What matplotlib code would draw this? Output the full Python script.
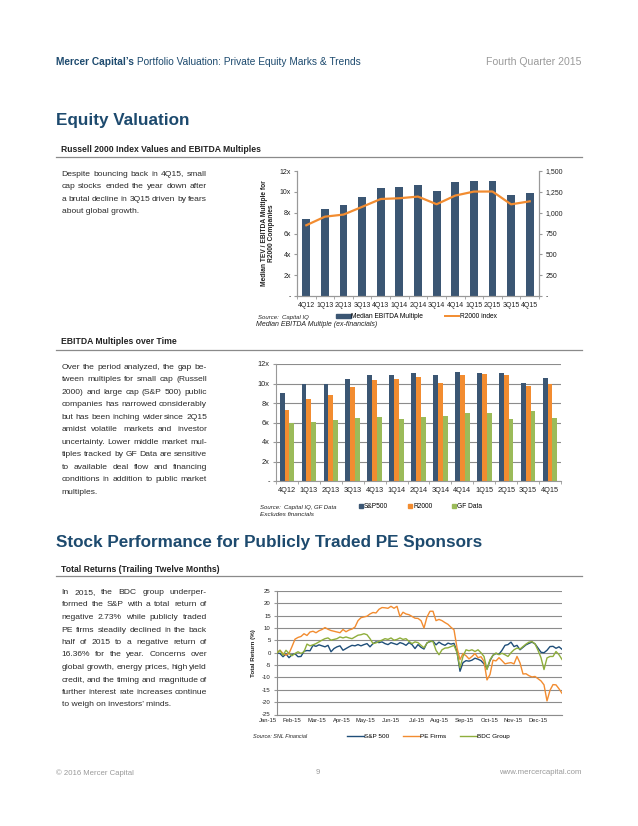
import matplotlib
matplotlib.use('Agg')
import matplotlib.pyplot as plt
import numpy as np
from matplotlib.patches import Patch
from matplotlib.lines import Line2D

plt.rcParams['font.family'] = ['Liberation Sans', 'DejaVu Sans']
plt.rcParams['axes.unicode_minus'] = False

# ---------------- data ----------------
quarters = ['4Q12', '1Q13', '2Q13', '3Q13', '4Q13', '1Q14', '2Q14', '3Q14',
            '4Q14', '1Q15', '2Q15', '3Q15', '4Q15']
r2000_median_multiple = [7.4, 8.4, 8.7, 9.5, 10.4, 10.5, 10.7, 10.1, 10.9, 11.0, 11.0, 9.7, 9.9]
r2000_index = [849, 952, 977, 1070, 1164, 1173, 1193, 1101, 1205, 1253, 1254, 1100, 1136]

sp500_multiple = [9.0, 9.9, 9.9, 10.5, 10.9, 10.9, 11.1, 10.9, 11.2, 11.1, 11.1, 10.1, 10.6]
r2000_multiple = [7.3, 8.4, 8.8, 9.6, 10.4, 10.5, 10.7, 10.1, 10.9, 11.0, 10.9, 9.7, 9.9]
gf_multiple = [6.0, 6.1, 6.3, 6.5, 6.6, 6.4, 6.6, 6.7, 7.0, 7.0, 6.4, 7.2, 6.5]

months = ['Jan-15', 'Feb-15', 'Mar-15', 'Apr-15', 'May-15', 'Jun-15',
          'Jul-15', 'Aug-15', 'Sep-15', 'Oct-15', 'Nov-15', 'Dec-15']
sp500_return = [0.0, -0.3, -1.6, -0.5, -2.0, -0.8, -0.4, -1.6, -1.5, 0.6, 0.9, 0.8,
                3.0, 2.6, 3.2, 2.8, 2.4, 3.0, 0.4, 1.7, 2.4, 2.8, 1.0, 1.7,
                2.4, 3.0, 2.8, 3.3, 2.8, 3.3, 3.7, 2.4, 3.7, 4.4, 4.1, 4.4,
                3.7, 3.3, 4.1, 3.7, 3.3, 4.1, 3.7, 3.0, 4.1, 3.3, 1.7, 3.3,
                2.2, 1.5, 4.0, 4.5, 4.7, 3.2, 4.3, 3.5, 3.0, 3.9, 3.5, 3.8,
                0.5, -7.5, -4.0, -3.2, -3.4, -3.0, -2.2, -2.6, -3.2, -4.5, -6.5, -3.2,
                -1.0, -0.3, -0.6, 1.0, 3.0, 3.3, 4.3, 2.5, 3.0, 1.2, 2.2, 3.2,
                3.8, 4.3, 3.6, 1.9, 0.2, 0.0, 1.0, 2.5, 2.6, 1.8, 2.4, 1.4]
pe_firms_return = [0.0, 1.0, -0.3, -1.0, -0.3, 2.5, 5.5, 6.2, 6.6, 7.7, 7.0, 8.4,
                   8.7, 8.1, 8.9, 9.4, 10.2, 9.5, 9.0, 8.7, 8.4, 8.1, 9.4, 8.5,
                   9.2, 9.6, 10.4, 13.0, 14.2, 14.5, 14.8, 15.7, 16.3, 16.1, 17.6, 18.3,
                   18.2, 18.0, 18.8, 18.0, 18.8, 14.6, 16.4, 15.7, 15.4, 14.7, 14.0, 13.9,
                   13.0, 10.0, 14.5, 16.8, 16.8, 13.0, 13.5, 13.0, 12.2, 11.5, 10.3, 9.3,
                   2.0, -2.8, -0.3, -1.2, -2.5, -1.5, -0.3, -2.0, -1.6, -3.5, -11.0, -8.8,
                   -3.0, -3.3, -2.0, -3.2, -4.5, -4.2, -4.0, -4.5, -1.5, -4.1, -8.6, -8.5,
                   -9.3, -9.8, -9.6, -10.5, -11.4, -13.0, -19.5, -15.2, -12.9, -13.0, -14.6, -16.4]
bdc_return = [0.0, 1.0, -1.0, 1.0, -0.3, -1.2, -0.3, 0.4, -0.3, 0.4, 3.5, 2.8,
              3.2, 3.7, 4.4, 5.1, 5.7, 6.0, 5.1, 5.4, 5.7, 6.4, 6.0, 6.4,
              6.0, 5.7, 6.4, 7.1, 7.3, 7.7, 7.3, 5.7, 3.7, 4.0, 4.6, 5.1,
              5.7, 5.4, 6.0, 5.1, 5.4, 6.0, 5.4, 5.7, 4.6, 3.7, 4.4, 4.1,
              3.0, 2.0, 3.9, 4.8, 4.5, 1.0, -0.8, 1.2, 1.9, 2.0, 2.5, 3.0,
              0.0, -6.1, -1.5, 1.2, 0.8, 1.2, 0.5, 1.2, 0.0, -1.5, -6.8, -2.8,
              -1.0, -0.1, -0.8, -0.2, -0.8, -1.5, 0.0, 1.2, 1.9, 1.5, 2.5, 3.5,
              4.3, 4.5, 3.6, 1.0, -2.0, -6.8, -2.1, -1.5, -1.5, 0.5, -0.8, -2.7]

# ---------------- style ----------------
W, H = 638, 826
fig = plt.figure(figsize=(W / 100, H / 100), dpi=100)
fig.patch.set_facecolor('white')


def fx(x):
    return x / W


def fy(y):
    return 1 - y / H


NAVY = '#1d4a6e'
BAR_NAVY = '#3b5673'
ORANGE = '#f28c30'
GREEN = '#9bbb59'
LINE_BLUE = '#1f4e79'
LINE_GREEN = '#8fae3c'
TEXT = '#222222'
GREY = '#9a9a9a'
renderer = fig.canvas.get_renderer()

# ---------------- header ----------------
t = fig.text(fx(56), fy(62), "Mercer Capital\u2019s", fontsize=7.3, fontweight='bold',
             color=NAVY, va='center')
wb = t.get_window_extent(renderer).width
fig.text(fx(56 + wb), fy(62), " Portfolio Valuation: Private Equity Marks & Trends",
         fontsize=7.3, color=NAVY, va='center')
fig.text(fx(582), fy(62), "Fourth Quarter 2015", fontsize=7.6, color=GREY,
         va='center', ha='right')

fig.text(fx(56), fy(121), "Equity Valuation", fontsize=12.3, fontweight='bold',
         color=NAVY, va='center')
fig.text(fx(56), fy(543), "Stock Performance for Publicly Traded PE Sponsors",
         fontsize=12.3, fontweight='bold', color=NAVY, va='center')


def subhead(text, y, yline):
    fig.text(fx(61), fy(y), text, fontsize=6.2, fontweight='bold', color=TEXT, va='center')
    fig.add_artist(Line2D([fx(56), fx(582)], [fy(yline), fy(yline)], color='#8a8a8a', lw=0.9))


subhead("Russell 2000 Index Values and EBITDA Multiples", 149, 157)
subhead("EBITDA Multiples over Time", 342, 350)
subhead("Total Returns (Trailing Twelve Months)", 569, 576)


def paragraph(lines, x0, x1, y_first, dy, size=6.1, color='#2a2a2a'):
    for k, line in enumerate(lines):
        y = fy(y_first + k * dy)
        words = line.split()
        if k == len(lines) - 1 or len(words) == 1:
            fig.text(fx(x0), y, line, fontsize=size, color=color, va='center')
            continue
        ts = [fig.text(0, y, w, fontsize=size, color=color, va='center') for w in words]
        widths = [tt.get_window_extent(renderer).width for tt in ts]
        gap = (x1 - x0 - sum(widths)) / (len(words) - 1)
        x = x0
        for tt, w in zip(ts, widths):
            tt.set_x(fx(x))
            x += w + gap


paragraph(["Despite bouncing back in 4Q15, small",
           "cap stocks ended the year down after",
           "a brutal decline in 3Q15 driven by fears",
           "about global growth."], 61.5, 207, 174.5, 12.3)

paragraph(["Over the period analyzed, the gap be-",
           "tween multiples for small cap (Russell",
           "2000) and large cap (S&P 500) public",
           "companies has narrowed considerably",
           "but has been inching wider since 2Q15",
           "amidst volatile markets and investor",
           "uncertainty.  Lower middle market mul-",
           "tiples tracked by GF Data are sensitive",
           "to available deal flow and financing",
           "conditions in addition to public market",
           "multiples."], 61.5, 207, 367.5, 12.45)

paragraph(["In 2015, the BDC group underper-",
           "formed the S&P with a total return of",
           "negative 2.73% while publicly traded",
           "PE firms steadily declined in the back",
           "half of 2015 to a negative return of",
           "16.36% for the year. Concerns over",
           "global growth, energy prices, high yield",
           "credit, and the timing and magnitude of",
           "further interest rate increases continue",
           "to weigh on investors\u2019 minds."], 61.5, 207, 592.5, 12.5)

# ---------------- chart 1 ----------------
AX_GREY = '#999999'
TICK_FS = 5.0


def axes_px(left, top, right, bottom):
    return fig.add_axes([fx(left), fy(bottom), (right - left) / W, (bottom - top) / H])


ax1 = axes_px(297, 171, 539, 296)
x = np.arange(len(quarters))
ax1.bar(x, r2000_median_multiple, width=0.42, color=BAR_NAVY, zorder=2)
ax1.set_xlim(-0.5, len(quarters) - 0.5)
ax1.set_ylim(0, 12)
ax1.set_yticks(np.arange(0, 13, 2))
ax1.set_yticklabels(['-'] + ['%dx' % v for v in range(2, 13, 2)])
ax1.set_xticks(x)
ax1.set_xticklabels(quarters)
ax1.set_xticks(np.arange(-0.5, len(quarters), 1), minor=True)
ax1.tick_params(axis='x', which='major', length=0, pad=4, labelsize=TICK_FS, colors=TEXT)
ax1.tick_params(axis='x', which='minor', length=2.5, color=AX_GREY)
ax1.tick_params(axis='y', length=2.5, pad=2, labelsize=TICK_FS, colors=TEXT, color=AX_GREY)
for s in ['left', 'right', 'bottom']:
    ax1.spines[s].set_color(AX_GREY)
    ax1.spines[s].set_linewidth(0.8)
ax1.spines['top'].set_visible(False)
ax1.set_ylabel("Median TEV / EBITDA Multiple for\nR2000 Companies", fontsize=4.8,
               fontweight='bold', color=TEXT, labelpad=3, linespacing=1.1)

ax1b = ax1.twinx()
ax1b.plot(x, r2000_index, color=ORANGE, lw=1.6, zorder=3)
ax1b.set_ylim(0, 1500)
ax1b.set_yticks(np.arange(0, 1501, 250))
ax1b.set_yticklabels(['-'] + ['{:,}'.format(v) for v in range(250, 1501, 250)])
ax1b.tick_params(axis='y', length=2.5, pad=2, labelsize=TICK_FS, colors=TEXT, color=AX_GREY)
for s in ['left', 'right', 'bottom']:
    ax1b.spines[s].set_color(AX_GREY)
    ax1b.spines[s].set_linewidth(0.8)
ax1b.spines['top'].set_visible(False)

fig.text(fx(258), fy(317), "Source:  Capital IQ", fontsize=4.3, style='italic',
         color=TEXT, va='center')
fig.text(fx(256), fy(324.5), "Median EBITDA Multiple (ex-financials)", fontsize=5.0,
         style='italic', color=TEXT, va='center')
fig.legend([Patch(color=BAR_NAVY), Line2D([], [], color=ORANGE, lw=1.4)],
           ["Median EBITDA Multiple", "R2000 index"], loc='center left',
           bbox_to_anchor=(fx(336), fy(317)), ncol=2, frameon=False, fontsize=4.8,
           handlelength=2.2, handleheight=0.45, handletextpad=0.1, columnspacing=3.2,
           borderpad=0, borderaxespad=0)

# ---------------- chart 2 ----------------
ax2 = axes_px(276, 364, 561, 481)
bw = 0.22
ax2.bar(x - bw, sp500_multiple, width=bw, color=BAR_NAVY, zorder=2)
ax2.bar(x, r2000_multiple, width=bw, color=ORANGE, zorder=2)
ax2.bar(x + bw, gf_multiple, width=bw, color=GREEN, zorder=2)
ax2.set_xlim(-0.5, len(quarters) - 0.5)
ax2.set_ylim(0, 12)
ax2.set_yticks(np.arange(0, 13, 2))
ax2.set_yticklabels(['-'] + ['%dx' % v for v in range(2, 13, 2)])
ax2.yaxis.grid(True, color='#8c8c8c', lw=0.8, zorder=0)
ax2.set_axisbelow(True)
ax2.set_xticks(x)
ax2.set_xticklabels(quarters)
ax2.set_xticks(np.arange(-0.5, len(quarters), 1), minor=True)
ax2.tick_params(axis='x', which='major', length=0, pad=4, labelsize=5.3, colors=TEXT)
ax2.tick_params(axis='x', which='minor', length=2.5, color=AX_GREY)
ax2.tick_params(axis='y', length=2.5, pad=2, labelsize=5.3, colors=TEXT, color=AX_GREY)
for s in ['left', 'bottom']:
    ax2.spines[s].set_color(AX_GREY)
    ax2.spines[s].set_linewidth(0.8)
ax2.spines['top'].set_visible(False)
ax2.spines['right'].set_visible(False)

fig.text(fx(260), fy(507.5), "Source:  Capital IQ, GF Data", fontsize=4.3, style='italic',
         color=TEXT, va='center')
fig.text(fx(260), fy(514.5), "Excludes financials", fontsize=4.6, style='italic',
         color=TEXT, va='center')
fig.legend([Patch(color=BAR_NAVY), Patch(color=ORANGE), Patch(color=GREEN)],
           ["S&P500", "R2000", "GF Data"], loc='center left',
           bbox_to_anchor=(fx(359), fy(507)), ncol=3, frameon=False, fontsize=4.8,
           handlelength=0.6, handleheight=0.6, handletextpad=0.15, columnspacing=3.0,
           borderpad=0, borderaxespad=0)

# ---------------- chart 3 ----------------
ax3 = axes_px(277, 591, 562, 714.5)
d = np.arange(len(sp500_return))
ax3.plot(d, sp500_return, color=LINE_BLUE, lw=1.0, zorder=3)
ax3.plot(d, pe_firms_return, color=ORANGE, lw=1.0, zorder=3)
ax3.plot(d, bdc_return, color=LINE_GREEN, lw=1.0, zorder=3)
ax3.set_xlim(0, len(d) - 1)
ax3.set_ylim(-25, 25)
ax3.set_yticks(np.arange(-25, 26, 5))
ax3.yaxis.grid(True, color='#8c8c8c', lw=0.8, zorder=0)
ax3.set_axisbelow(True)
ax3.set_xticks(np.arange(len(months)) * 8.2)
ax3.set_xticklabels(months, ha='right')
ax3.tick_params(axis='x', length=0, pad=2.5, labelsize=4.2, colors=TEXT)
ax3.tick_params(axis='y', length=2, pad=2.5, labelsize=4.3, colors=TEXT, color=AX_GREY)
for s in ['left', 'bottom']:
    ax3.spines[s].set_color('#8c8c8c')
    ax3.spines[s].set_linewidth(0.8)
ax3.spines['top'].set_visible(False)
ax3.spines['right'].set_visible(False)
ax3.set_ylabel("Total Return (%)", fontsize=4.5, fontweight='bold', color=TEXT, labelpad=4)

fig.text(fx(253), fy(736), "Source: SNL Financial", fontsize=4.0, style='italic',
         color=TEXT, va='center')
fig.legend([Line2D([], [], color=LINE_BLUE, lw=1.0), Line2D([], [], color=ORANGE, lw=1.0),
            Line2D([], [], color=LINE_GREEN, lw=1.0)],
           ["S&P 500", "PE Firms", "BDC Group"], loc='center left',
           bbox_to_anchor=(fx(347), fy(736)), ncol=3, frameon=False, fontsize=4.6,
           handlelength=2.6, handletextpad=0.05, columnspacing=2.2,
           borderpad=0, borderaxespad=0)

# ---------------- footer ----------------
fig.text(fx(56), fy(773), "\u00a9 2016 Mercer Capital", fontsize=5.6, color=GREY, va='center')
fig.text(fx(318), fy(773), "9", fontsize=5.6, color=GREY, va='center', ha='center')
fig.text(fx(582), fy(773), "www.mercercapital.com", fontsize=5.6, color=GREY,
         va='center', ha='right')

fig.savefig('out.png', dpi=100, facecolor='white')
